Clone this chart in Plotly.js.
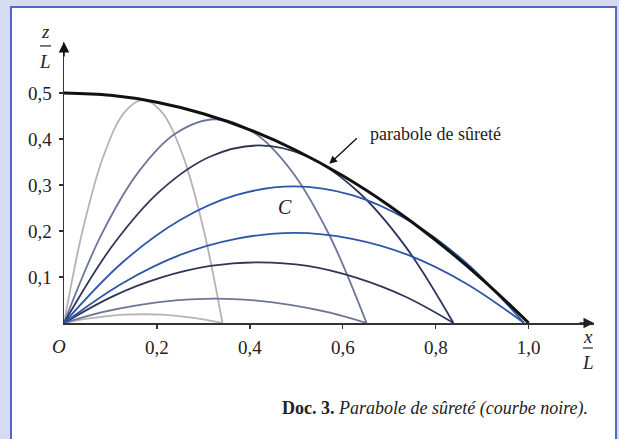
<!DOCTYPE html>
<html>
<head>
<meta charset="utf-8">
<script src="https://cdn.plot.ly/plotly-3.0.1.min.js"></script>
<style>
  html, body { margin:0; padding:0; width:619px; height:439px; overflow:hidden; background:#d6daf3; }
  #frame { position:absolute; left:10px; top:6px; width:603px; height:440px; background:#ffffff;
           border-left:2px solid #5468bd; border-top:2px solid #5468bd; border-right:2px solid #5468bd; }
  #chart { position:absolute; left:0; top:0; width:619px; height:439px; }
</style>
</head>
<body>
<div id="frame"></div>
<div id="chart"></div>
<script>
// Safety parabola (black)
const xSafety = [0, 0.1, 0.2, 0.3, 0.4, 0.5, 0.6, 0.7, 0.8, 0.9, 1.0];
const zSafety = [0.5, 0.495, 0.48, 0.455, 0.42, 0.375, 0.32, 0.255, 0.18, 0.095, 0];

// Trajectories landing at x/L ≈ 0.34 (light gray)
const xArc034 = [0, 0.04, 0.085, 0.13, 0.17, 0.21, 0.255, 0.30, 0.341];
const zArc034High = [0, 0.201, 0.363, 0.458, 0.485, 0.459, 0.366, 0.205, 0];
const zArc034Low = [0, 0.008, 0.014, 0.018, 0.019, 0.018, 0.014, 0.008, 0];

// Trajectories landing at x/L ≈ 0.65 (gray-blue)
const xArc065 = [0, 0.08, 0.16, 0.24, 0.3255, 0.41, 0.49, 0.57, 0.651];
const zArc065High = [0, 0.191, 0.328, 0.412, 0.443, 0.413, 0.330, 0.193, 0];
const zArc065Low = [0, 0.023, 0.039, 0.049, 0.053, 0.049, 0.039, 0.023, 0];

// Trajectories landing at x/L ≈ 0.84 (dark navy)
const xArc084 = [0, 0.105, 0.21, 0.315, 0.419, 0.524, 0.63, 0.735, 0.838];
const zArc084High = [0, 0.169, 0.290, 0.362, 0.386, 0.362, 0.288, 0.166, 0];
const zArc084Low = [0, 0.058, 0.099, 0.124, 0.132, 0.124, 0.098, 0.057, 0];

// Trajectories landing at x/L ≈ 1.0 (blue)
const xArc100 = [0, 0.125, 0.25, 0.37, 0.495, 0.62, 0.74, 0.865, 0.99];
const zArc100High = [0, 0.131, 0.224, 0.278, 0.297, 0.278, 0.224, 0.131, 0];
const zArc100Low = [0, 0.086, 0.148, 0.183, 0.196, 0.183, 0.148, 0.086, 0];

const xTicks = [0.2, 0.4, 0.6, 0.8, 1.0];
const yTicks = [0.1, 0.2, 0.3, 0.4, 0.5];

const SERIF = '"Liberation Serif", "Times New Roman", Times, serif';
const cGray = '#b4b4b4', cGrayBlue = '#6d7699', cNavy = '#2f3658', cBlue = '#2d56a8';

function arc(x, z, color) {
  return { x: x, y: z, type: 'scatter', mode: 'lines', hoverinfo: 'skip',
           line: { color: color, width: 1.8, shape: 'spline', smoothing: 1 } };
}

const traces = [
  arc(xArc034, zArc034High, cGray),
  arc(xArc034, zArc034Low, cGray),
  arc(xArc065, zArc065High, cGrayBlue),
  arc(xArc065, zArc065Low, cGrayBlue),
  arc(xArc084, zArc084High, cNavy),
  arc(xArc084, zArc084Low, cNavy),
  arc(xArc100, zArc100High, cBlue),
  arc(xArc100, zArc100Low, cBlue),
  { x: xSafety, y: zSafety, type: 'scatter', mode: 'lines', hoverinfo: 'skip',
    line: { color: '#111111', width: 3, shape: 'spline', smoothing: 1 } }
];

const XMAX = 1.1405, YMAX = 0.6109;
const axisCommon = { showgrid: false, zeroline: false, showline: true, linecolor: '#333', linewidth: 1.5,
                     tickcolor: '#333', tickwidth: 1.3, ticklen: 4, tickformat: '.1f',
                     tickfont: { family: SERIF, size: 19, color: '#222' }, fixedrange: true };

function txt(x, y, text, size, extra) {
  return Object.assign({ xref: 'paper', yref: 'paper', x: x, y: y, text: text, showarrow: false,
    xanchor: 'center', yanchor: 'middle', font: { family: SERIF, size: size, color: '#222' } }, extra || {});
}

const layout = {
  width: 619, height: 439,
  margin: { l: 64, r: 25, t: 42, b: 116, pad: 0 },
  paper_bgcolor: 'rgba(0,0,0,0)', plot_bgcolor: 'rgba(0,0,0,0)',
  font: { family: SERIF, color: '#222' },
  separators: ',.',
  showlegend: false,
  xaxis: Object.assign({}, axisCommon, { range: [0, XMAX], tickmode: 'array', tickvals: xTicks, ticks: 'outside', ticklabelstandoff: 3 }),
  yaxis: Object.assign({}, axisCommon, { range: [0, YMAX], tickmode: 'array', tickvals: yTicks, ticks: 'outside', ticklabelstandoff: 3 }),
  xaxis2: { overlaying: 'x', anchor: 'y', range: [0, XMAX], tickmode: 'array', tickvals: xTicks, ticks: 'inside',
            ticklen: 4, tickwidth: 1.3, tickcolor: '#333', showticklabels: false, showgrid: false, zeroline: false, showline: false, fixedrange: true },
  yaxis2: { overlaying: 'y', anchor: 'x', range: [0, YMAX], tickmode: 'array', tickvals: yTicks, ticks: 'inside',
            ticklen: 4, tickwidth: 1.3, tickcolor: '#333', showticklabels: false, showgrid: false, zeroline: false, showline: false, fixedrange: true },
  shapes: [
    { type: 'line', xref: 'paper', yref: 'paper', x0: -0.0453, x1: -0.0245, y0: 0.986, y1: 0.986, line: { color: '#222', width: 1.2 } },
    { type: 'line', xref: 'paper', yref: 'paper', x0: 0.979, x1: 0.998, y0: -0.089, y1: -0.089, line: { color: '#222', width: 1.2 } }
  ],
  annotations: [
    // axis arrowheads
    { x: XMAX, y: 0, xref: 'x', yref: 'y', ax: -16, ay: 0, text: '', showarrow: true, arrowhead: 2, arrowsize: 1.4, arrowwidth: 1.5, arrowcolor: '#222', standoff: 0 },
    { x: 0, y: YMAX, xref: 'x', yref: 'y', ax: 0, ay: 16, text: '', showarrow: true, arrowhead: 2, arrowsize: 1.4, arrowwidth: 1.5, arrowcolor: '#111', standoff: 0 },
    // axis titles
    txt(-0.0358, 1.0356, '<i>z</i>', 19),
    txt(-0.0358, 0.932, '<i>L</i>', 19),
    txt(0.9887, -0.0498, '<i>x</i>', 19),
    txt(0.9887, -0.139, '<i>L</i>', 19),
    txt(-0.0094, -0.082, '<i>O</i>', 19),
    // curve labels
    txt(0.417, 0.413, '<i>C</i>', 20),
    txt(0.5736, 0.6726, 'parabole de sûreté', 18, { xanchor: 'left' }),
    { x: 0.571, y: 0.346, xref: 'x', yref: 'y', ax: 29, ay: -27, text: '', showarrow: true, arrowhead: 2, arrowsize: 1.2, arrowwidth: 1.3, arrowcolor: '#111', standoff: 0 },
    // caption
    txt(0.9925, -0.3025, '<b>Doc. 3.</b> <i>Parabole de sûreté (courbe noire).</i>', 18, { xanchor: 'right' })
  ]
};

Plotly.newPlot('chart', traces, layout, { displayModeBar: false, staticPlot: true });
</script>
</body>
</html>
